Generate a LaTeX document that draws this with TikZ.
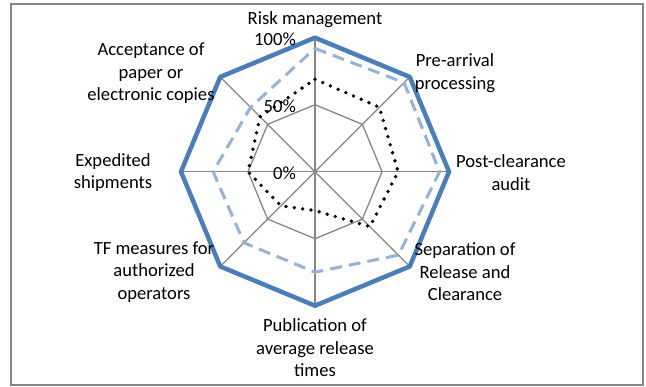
\documentclass[tikz,border=0pt]{standalone}
\usepackage{fontspec}
\setmainfont{Carlito}
\begin{document}
\begin{tikzpicture}[x=1pt,y=1pt,
  gridline/.style={draw={rgb,255:red,134;green,134;blue,134},line width=1.3pt},
  frameline/.style={draw={rgb,255:red,134;green,134;blue,134},line width=2pt},
  seriesA/.style={draw={rgb,255:red,74;green,126;blue,187},line width=4.5pt,line join=round},
  seriesB/.style={draw={rgb,255:red,149;green,179;blue,215},line width=3pt,dash pattern=on 12pt off 7pt,line join=round},
  seriesC/.style={draw=black,line width=3.8pt,dash pattern=on 0pt off 8.4pt,line cap=round},
  lbl/.style={align=center,inner sep=0pt,font=\fontsize{18.6}{22.5}\selectfont},
  tick/.style={anchor=east,inner sep=0pt,font=\fontsize{18.6}{22.5}\selectfont}]
\useasboundingbox (0,0) rectangle (646,386);
\fill[white] (0,0) rectangle (646,386);
\draw[frameline] (11,1) rectangle (643,382);
\coordinate (O) at (315,214.3);
% grid
\foreach \i in {0,...,7}{
  \coordinate (g\i) at ([shift={(O)}]90-45*\i:134);
  \coordinate (h\i) at ([shift={(O)}]90-45*\i:67);
}
\foreach \i in {0,...,7}{\draw[gridline] (O) -- (g\i);}
\draw[gridline] (h0)--(h1)--(h2)--(h3)--(h4)--(h5)--(h6)--(h7)--cycle;
\draw[gridline] (g0)--(g1)--(g2)--(g3)--(g4)--(g5)--(g6)--(g7)--cycle;
% series points
\foreach \v [count=\i from 0] in {92,94,93,88,75,75,76,68}{
  \coordinate (b\i) at ([shift={(O)}]90-45*\i:1.34*\v);
}
\foreach \v [count=\i from 0] in {69,68,62,58,29,36,50,58}{
  \coordinate (c\i) at ([shift={(O)}]90-45*\i:1.34*\v);
}
\draw[seriesA] (g0)--(g1)--(g2)--(g3)--(g4)--(g5)--(g6)--(g7)--cycle;
\draw[seriesB] (b0)--(b1)--(b2)--(b3)--(b4)--(b5)--(b6)--(b7)--cycle;
\draw[seriesC] (c0)--(c1)--(c2)--(c3)--(c4)--(c5)--(c6)--(c7)--cycle;
% tick labels
\node[tick] (t100) at (296,347) {100\%};
\node[tick] (t50) at (296,280) {50\%};
\node[tick] (t0) at (296,213) {0\%};
% category labels
\node[lbl] (l0) at (315,366.7) {Risk management};
\node[lbl] (l1) at (455,313) {Pre-arrival\\processing};
\node[lbl] (l2) at (511,213.5) {Post-clearance\\audit};
\node[lbl] (l3) at (465,114.3) {Separation of\\Release and\\Clearance};
\node[lbl] (l4) at (315,38) {Publication of\\average release\\times};
\node[lbl] (l5) at (154,114.3) {TF measures for\\authorized\\operators};
\node[lbl] (l6) at (113,213.5) {Expedited\\shipments};
\node[lbl] (l7) at (151,312.8) {Acceptance of\\paper or\\electronic copies};
\end{tikzpicture}
\end{document}
